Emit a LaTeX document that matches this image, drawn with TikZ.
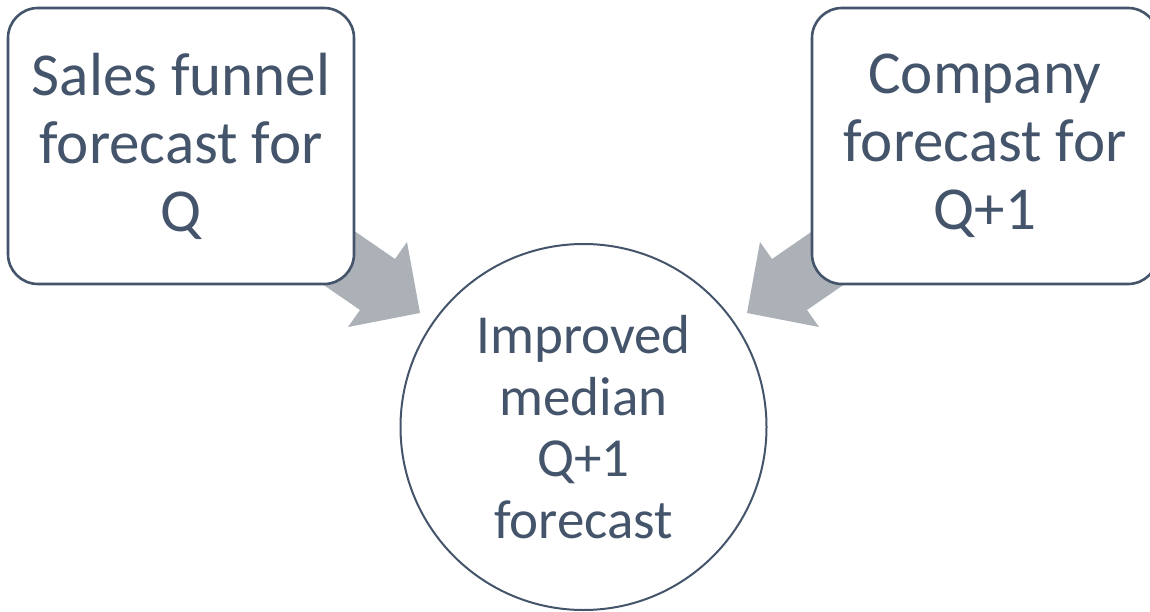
\documentclass[tikz,border=0pt]{standalone}
\usepackage{fontspec}
\setmainfont{Carlito}
\definecolor{ink}{HTML}{44546A}
\definecolor{arrowgray}{RGB}{172,176,183}
\begin{document}
\begin{tikzpicture}[x=1pt,y=-1pt,
  card/.style={draw=ink, line width=2.6pt, fill=white, rounded corners=30pt,
    minimum width=346pt, minimum height=276pt, inner sep=0pt,
    text=ink, align=center, font=\fontsize{61}{68}\selectfont},
  hub/.style={circle, draw=ink, line width=2pt, fill=white,
    minimum size=366pt, inner sep=0pt,
    text=ink, align=center, font=\fontsize{55}{61.5}\selectfont},
  blockarrow/.style={fill=arrowgray, draw=none}]
\clip (0,0) rectangle (1150,612);
\useasboundingbox (0,0) rectangle (1150,612);

% block arrows (tails tucked under the cards)
\fill[blockarrow] (321,208) -- (395,259) -- (407,242) -- (420,313)
  -- (348,327) -- (360,310) -- (286,259) -- cycle;
\fill[blockarrow] (846,208) -- (772,259) -- (760,242) -- (747,313)
  -- (819,327) -- (807,310) -- (881,259) -- cycle;

\node[card] (funnel) at (181,146) {Sales funnel\\forecast for\\Q};
\node[card] (company) at (985,146) {Company\\forecast for\\Q+1};
\node[hub] (median) at (583.5,427) {Improved\\median\\Q+1\\forecast};
\end{tikzpicture}
\end{document}
